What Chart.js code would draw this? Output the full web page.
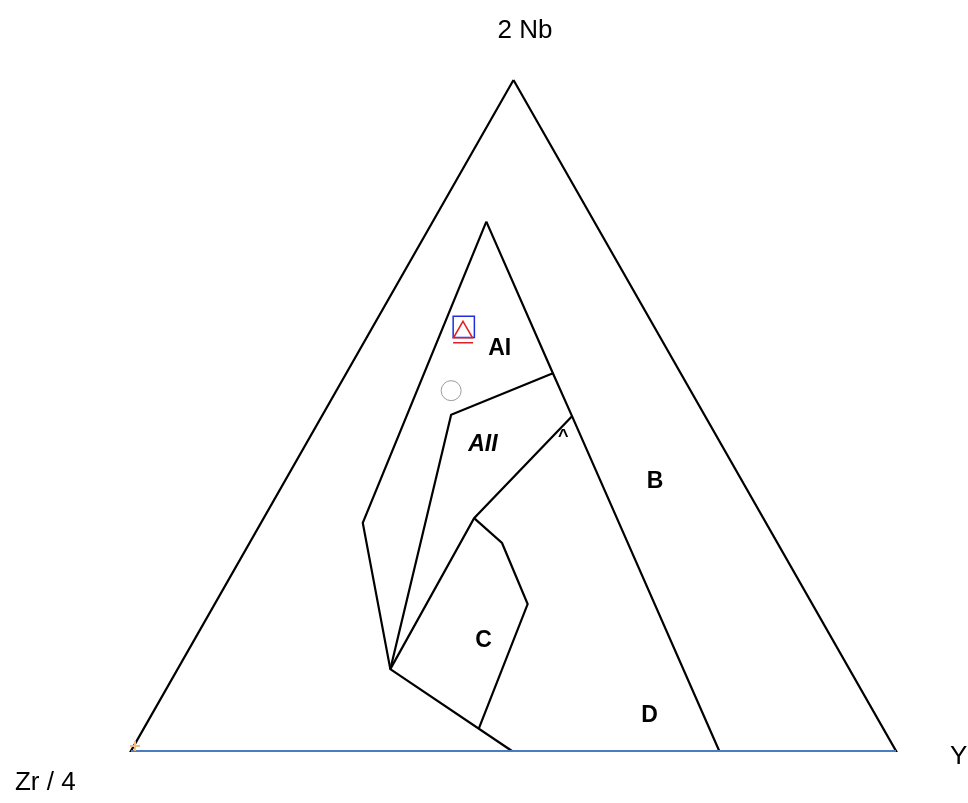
<!DOCTYPE html>
<html>
<head>
<meta charset="utf-8">
<script src="https://cdn.jsdelivr.net/npm/chart.js@4.4.1/dist/chart.umd.min.js"></script>
<style>
  html, body { margin: 0; padding: 0; background: #fff; }
  #wrap { width: 968px; height: 803px; }
</style>
</head>
<body>
<div id="wrap"><canvas id="myChart" width="968" height="803"></canvas></div>
<script>
// compositions as [Nb, Zr, Y] fractions (2Nb - Zr/4 - Y ternary)
const outerTriangle = [[1, 0, 0], [0, 1, 0], [0, 0, 1], [1, 0, 0]];
const baseLine = [[0, 1, 0], [0, 0, 1]];

// field boundaries
const leftBoundary = [[0.789, 0.141, 0.070], [0.340, 0.527, 0.133], [0.122, 0.600, 0.278], [0, 0.502, 0.498]];
const rightBoundary = [[0.789, 0.141, 0.070], [0.563, 0.167, 0.270], [0.499, 0.174, 0.327], [0, 0.231, 0.769]];
const lineAI_AII = [[0.563, 0.167, 0.270], [0.501, 0.331, 0.168], [0.122, 0.600, 0.278]];
const lineAII_C = [[0.499, 0.174, 0.327], [0.347, 0.378, 0.275], [0.122, 0.600, 0.278]];
const lineC = [[0.347, 0.378, 0.275], [0.310, 0.360, 0.330], [0.219, 0.372, 0.409], [0.033, 0.529, 0.438]];

// samples
const sampleSquare = [[0.632, 0.249, 0.119]];
const sampleTriangle = [[0.624, 0.254, 0.122]];
const sampleDash = [[0.609, 0.262, 0.130]];
const sampleCircle = [[0.537, 0.313, 0.150]];
const sampleCross = [[0.0075, 0.991, 0.0015]];

// text labels: [text, x, y] in triangle coordinates
const cornerLabels = [['2 Nb', 0.515, 1.073], ['Zr / 4', -0.112, -0.048], ['Y', 1.082, -0.008]];
const fieldLabels = [['AI', 0.482, 0.599], ['AII', 0.460, 0.456], ['B', 0.685, 0.402], ['C', 0.461, 0.164], ['D', 0.678, 0.052]];
const tickMark = [['^', 0.565, 0.474]];

const toXY = (c) => {
  const s = c[0] + c[1] + c[2];
  const nb = c[0] / s, y = c[2] / s;
  return { x: y + nb / 2, y: nb };
};

const lineSet = (pts, color, width) => ({
  data: pts.map(toXY),
  showLine: true,
  borderColor: color,
  borderWidth: width,
  pointRadius: 0,
  fill: false,
  tension: 0
});

const pointSet = (pts, style, radius, color, width, fillColor) => ({
  data: pts.map(toXY),
  showLine: false,
  pointStyle: style,
  pointRadius: radius,
  pointBorderColor: color,
  pointBorderWidth: width,
  pointBackgroundColor: fillColor || 'rgba(0,0,0,0)'
});

const textPlugin = {
  id: 'ternaryText',
  afterDatasetsDraw(chart) {
    const ctx = chart.ctx;
    const sx = chart.scales.x, sy = chart.scales.y;
    ctx.save();
    ctx.fillStyle = '#000';
    ctx.textAlign = 'center';
    ctx.textBaseline = 'middle';
    ctx.font = '26px "Liberation Sans", Arial, sans-serif';
    cornerLabels.forEach(l => ctx.fillText(l[0], sx.getPixelForValue(l[1]), sy.getPixelForValue(l[2])));
    fieldLabels.forEach(l => {
      ctx.font = (l[0] === 'AII' ? 'italic bold ' : 'bold ') + '23px "Liberation Sans", Arial, sans-serif';
      ctx.fillText(l[0], sx.getPixelForValue(l[1]), sy.getPixelForValue(l[2]));
    });
    ctx.font = 'bold 18px "Liberation Sans", Arial, sans-serif';
    tickMark.forEach(l => ctx.fillText(l[0], sx.getPixelForValue(l[1]), sy.getPixelForValue(l[2]) + 4));
    ctx.restore();
  }
};

// first dataset is drawn on top in Chart.js
new Chart(document.getElementById('myChart'), {
  type: 'scatter',
  data: {
    datasets: [
      pointSet(sampleCross, 'cross', 5, '#f2bd84', 2),
      pointSet(sampleDash, 'line', 10, '#e02020', 1.5),
      pointSet(sampleTriangle, 'triangle', 11, '#e02020', 1.5),
      pointSet(sampleSquare, 'rect', 15, '#1f2fe0', 1.5),
      pointSet(sampleCircle, 'circle', 10, '#9a9a9a', 1),
      lineSet(baseLine, '#4a7cc4', 2),
      lineSet(outerTriangle, '#000', 2.2),
      lineSet(leftBoundary, '#000', 2.2),
      lineSet(rightBoundary, '#000', 2.2),
      lineSet(lineAI_AII, '#000', 2.2),
      lineSet(lineAII_C, '#000', 2.2),
      lineSet(lineC, '#000', 2.2)
    ]
  },
  options: {
    responsive: false,
    animation: false,
    layout: { padding: 0, autoPadding: false },
    plugins: { legend: { display: false }, tooltip: { enabled: false } },
    scales: {
      x: { type: 'linear', min: -0.1712, max: 1.0941, display: false },
      y: { type: 'linear', min: -0.0775, max: 1.1192, display: false }
    }
  },
  plugins: [textPlugin]
});
</script>
</body>
</html>
